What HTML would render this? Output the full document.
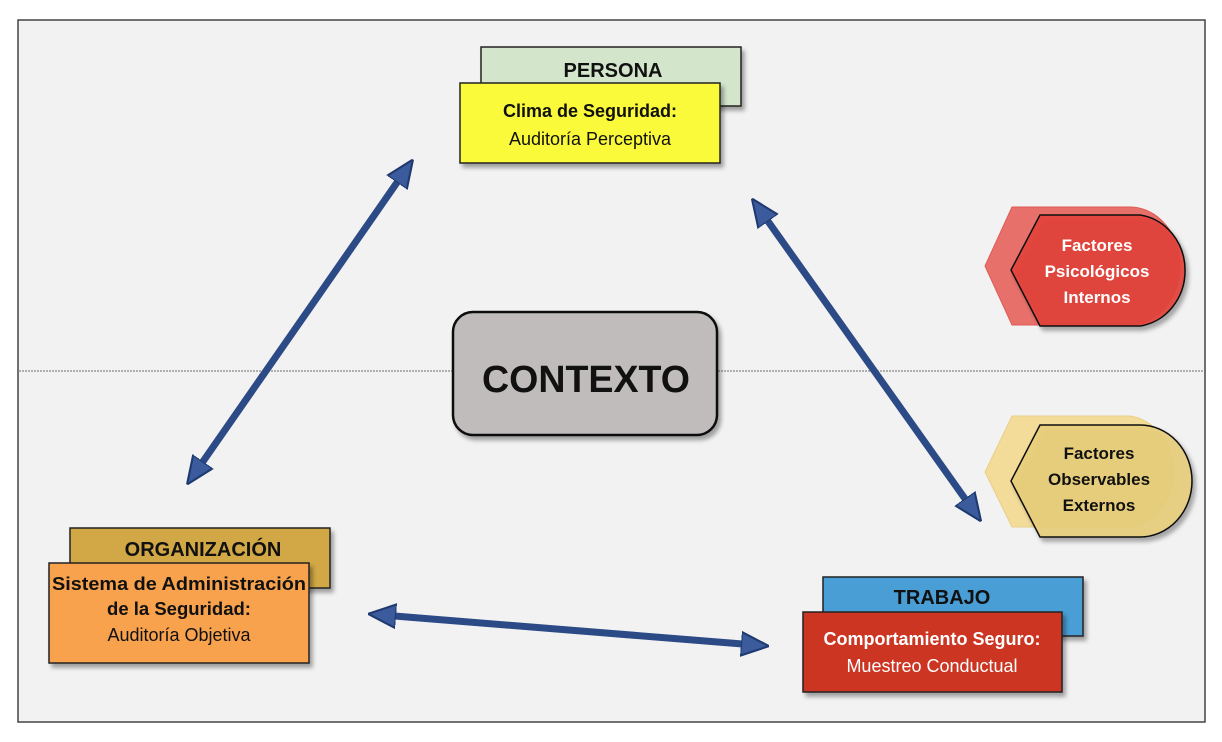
<!DOCTYPE html>
<html><head><meta charset="utf-8"><style>
body{margin:0;background:#fff;}
svg text{font-family:"Liberation Sans",sans-serif;font-weight:bold;}
</style></head><body>
<svg width="1222" height="737" viewBox="0 0 1222 737" xmlns="http://www.w3.org/2000/svg">
<defs>
<marker id="ah" markerWidth="4" markerHeight="4" refX="2" refY="2" orient="auto-start-reverse" markerUnits="strokeWidth">
<path d="M0,0.3 L4,2 L0,3.7 z" fill="#3b5b9c" stroke="#1f3a70" stroke-width="0.3"/></marker>
<filter id="sh" x="-10%" y="-10%" width="130%" height="140%"><feDropShadow dx="3" dy="4" stdDeviation="2" flood-opacity="0.35"/></filter>
</defs>
<rect x="18" y="20" width="1187" height="702" fill="#f2f2f2" stroke="#444" stroke-width="1.5"/>
<line x1="19" y1="371" x2="1204" y2="371" stroke="#888" stroke-width="1.2" stroke-dasharray="2,1"/>

<g stroke="#2b4a86" stroke-width="7" fill="none">
<line x1="195" y1="473" x2="405" y2="171" marker-start="url(#ah)" marker-end="url(#ah)"/>
<line x1="760" y1="210" x2="973" y2="510" marker-start="url(#ah)" marker-end="url(#ah)"/>
<line x1="382" y1="615" x2="755" y2="645" marker-start="url(#ah)" marker-end="url(#ah)"/>
</g>

<rect x="481" y="47" width="260" height="59" fill="#d3e6cc" stroke="#222" stroke-width="1.5" filter="url(#sh)"/>
<text x="613" y="77" text-anchor="middle" font-size="20" fill="#111">PERSONA</text>
<rect x="460" y="83" width="260" height="80" fill="#fafa3a" stroke="#222" stroke-width="1.5" filter="url(#sh)"/>
<text x="590" y="117" text-anchor="middle" font-size="18" fill="#111">Clima de Seguridad:</text>
<text x="590" y="145" text-anchor="middle" font-size="18" style="font-weight:normal" fill="#111">Auditoría Perceptiva</text>

<rect x="70" y="528" width="260" height="60" fill="#d1a845" stroke="#222" stroke-width="1.5" filter="url(#sh)"/>
<text x="203" y="556" text-anchor="middle" font-size="20" fill="#111">ORGANIZACIÓN</text>
<rect x="49" y="563" width="260" height="100" fill="#f8a24e" stroke="#222" stroke-width="1.5" filter="url(#sh)"/>
<text x="179" y="590" text-anchor="middle" font-size="18.5" textLength="254" lengthAdjust="spacingAndGlyphs" fill="#111">Sistema de Administración</text>
<text x="179" y="615" text-anchor="middle" font-size="18.5" fill="#111">de la Seguridad:</text>
<text x="179" y="641" text-anchor="middle" font-size="18" style="font-weight:normal" fill="#111">Auditoría Objetiva</text>

<rect x="823" y="577" width="260" height="59" fill="#4a9ed6" stroke="#222" stroke-width="1.5" filter="url(#sh)"/>
<text x="942" y="604" text-anchor="middle" font-size="20" fill="#111">TRABAJO</text>
<rect x="803" y="612" width="259" height="80" fill="#cc3524" stroke="#222" stroke-width="1.5" filter="url(#sh)"/>
<text x="932" y="645" text-anchor="middle" font-size="18" fill="#fff">Comportamiento Seguro:</text>
<text x="932" y="672" text-anchor="middle" font-size="18" style="font-weight:normal" fill="#fff">Muestreo Conductual</text>

<rect x="453" y="312" width="264" height="123" rx="20" fill="#c1bcbc" stroke="#111" stroke-width="2.5" filter="url(#sh)"/>
<text x="586" y="392" text-anchor="middle" font-size="38" textLength="208" lengthAdjust="spacingAndGlyphs" fill="#111">CONTEXTO</text>

<path d="M1012,207 L1130,207 A50,59 0 0 1 1130,325 L1012,325 L985,266 Z" fill="#e8706a" stroke="#e05a55" stroke-width="1"/>
<path d="M1040,215 L1140,215 A52,56 0 0 1 1140,326 L1040,326 L1011,270 Z" fill="#e3433a" fill-opacity="0.9" stroke="#111" stroke-width="1.5" filter="url(#sh)"/>
<text x="1097" y="251" text-anchor="middle" font-size="17" fill="#fff">Factores</text>
<text x="1097" y="277" text-anchor="middle" font-size="17" fill="#fff">Psicológicos</text>
<text x="1097" y="303" text-anchor="middle" font-size="17" fill="#fff">Internos</text>

<path d="M1012,416 L1130,416 A50,56 0 0 1 1130,527 L1012,527 L985,472 Z" fill="#f3dc9a" stroke="#e8cf85" stroke-width="1"/>
<path d="M1040,425 L1140,425 A52,56 0 0 1 1140,537 L1040,537 L1011,481 Z" fill="#e9cf7c" fill-opacity="0.9" stroke="#111" stroke-width="1.5" filter="url(#sh)"/>
<text x="1099" y="459" text-anchor="middle" font-size="17" fill="#111">Factores</text>
<text x="1099" y="485" text-anchor="middle" font-size="17" fill="#111">Observables</text>
<text x="1099" y="511" text-anchor="middle" font-size="17" fill="#111">Externos</text>
</svg>
</body></html>
